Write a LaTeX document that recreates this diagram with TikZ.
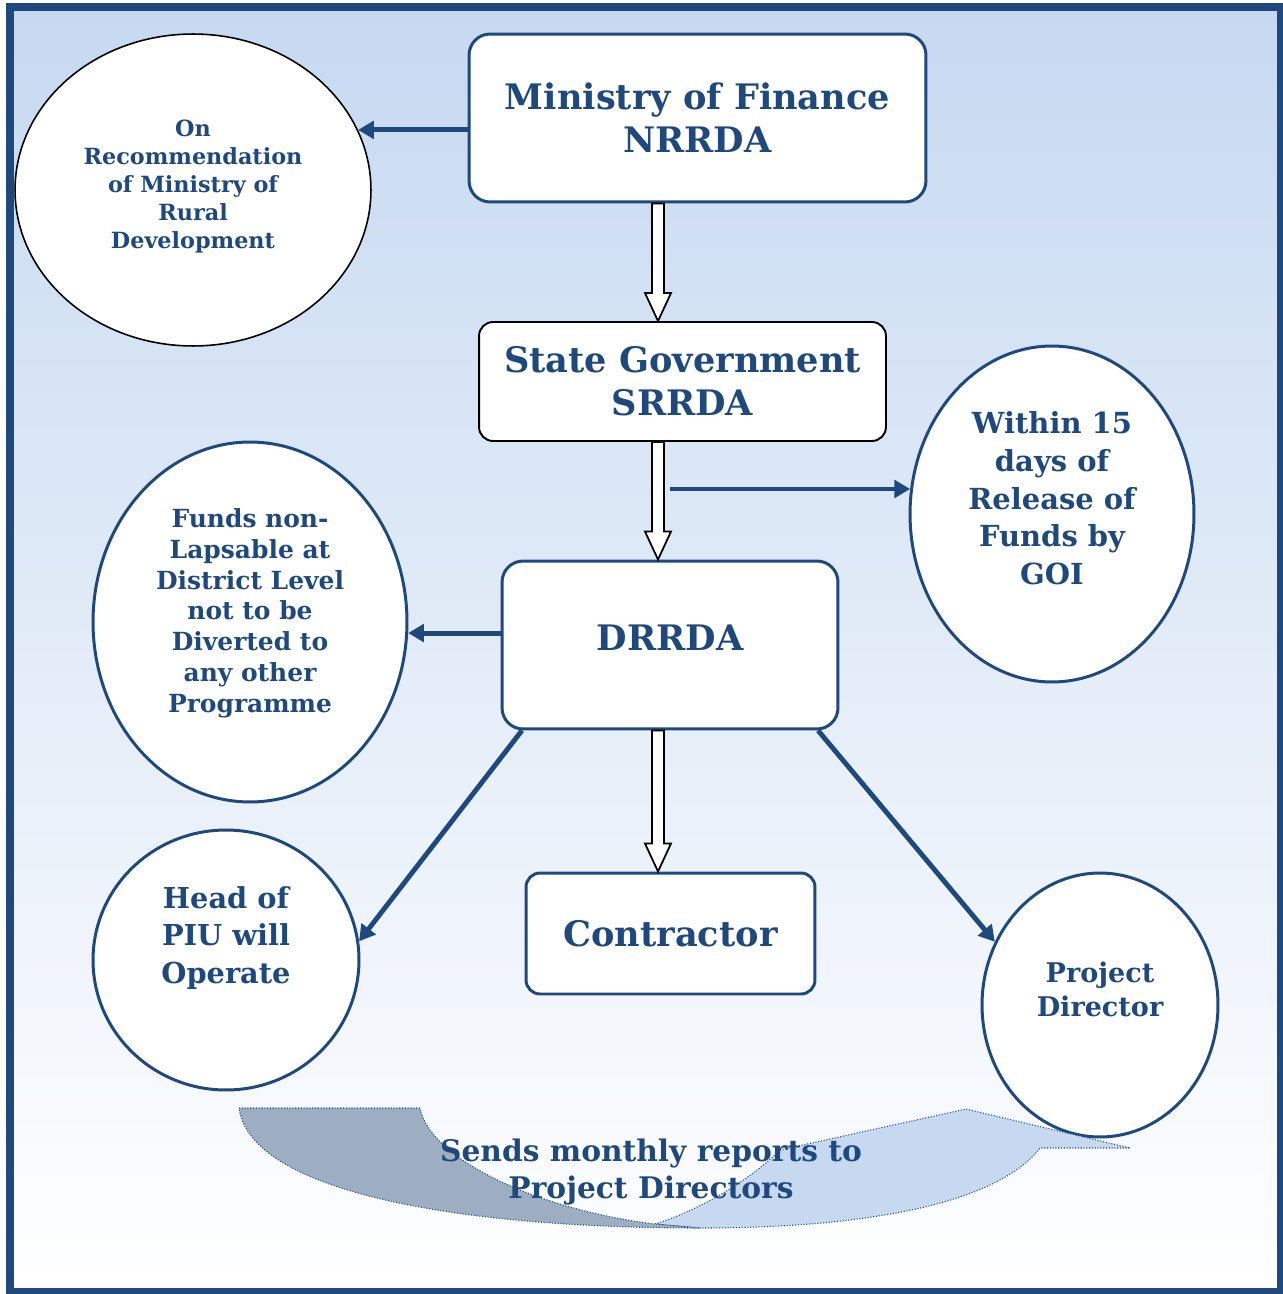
\documentclass[tikz,border=0pt]{standalone}
\usepackage{fontspec}
\setmainfont{DejaVu Serif}
\usetikzlibrary{shapes.geometric,arrows.meta,calc}
\definecolor{navy}{HTML}{1F497D}
\definecolor{skyfill}{HTML}{C6D9F1}
\definecolor{slate}{HTML}{9DAEC2}
% hollow block arrow straight down between two nodes, on the spine
\newcommand\downpipe[2]{%
  \draw[pipe] ($(spine |- #1.south)+(-6,0)$) -- ($(spine |- #2.north)+(-6,-28)$)
    -- ($(spine |- #2.north)+(-13,-28)$) -- (spine |- #2.north)
    -- ($(spine |- #2.north)+(13,-28)$) -- ($(spine |- #2.north)+(6,-28)$)
    -- ($(spine |- #1.south)+(6,0)$) -- cycle;}

\begin{document}
\begin{tikzpicture}[x=0.02cm,y=-0.02cm,
    box/.style={draw=navy,line width=1.7pt,fill=white,rounded corners=12pt,text=navy,
      font=\bfseries\fontsize{20}{24.4}\selectfont,align=center},
    bubble/.style={ellipse,draw=navy,line width=1.7pt,fill=white,inner sep=0pt},
    note/.style={text=navy,align=center},
    link/.style={navy,line width=2.8pt,-{Triangle[length=9pt,width=10pt]}},
    pipe/.style={draw=black,line width=1pt,fill=white,line join=miter}]
  \useasboundingbox (0,0) rectangle (1283,1294);
  \shade[top color=skyfill,bottom color=white] (10,7) rectangle (1280,1291);
  \draw[navy,line width=4pt] (10,7) rectangle (1280,1291);
  \coordinate (spine) at (658,0);

  % boxes
  \node[box,minimum width=9.14cm,minimum height=3.36cm] (nrrda) at (697.5,118) {Ministry of Finance\\NRRDA};
  \node[box,draw=black,line width=1.1pt,rounded corners=8pt,minimum width=8.14cm,minimum height=2.38cm] (srrda) at (682.5,381.5) {State Government\\SRRDA};
  \node[box,minimum width=6.72cm,minimum height=3.36cm,text depth=8pt] (drrda) at (670,645) {DRRDA};
  \node[box,rounded corners=8pt,minimum width=5.78cm,minimum height=2.42cm] (contractor) at (670.5,933.5) {Contractor};

  % bubbles
  \node[bubble,draw=black,line width=0.9pt,minimum width=7.12cm,minimum height=6.24cm,
    label={[note,yshift=2pt,font=\bfseries\fontsize{12.7}{15.9}\selectfont]center:{On\\Recommendation\\of Ministry of\\Rural\\Development}}] (rec) at (193,190) {};
  \node[bubble,minimum width=5.68cm,minimum height=6.72cm,
    label={[note,yshift=9pt,font=\bfseries\fontsize{16.5}{21.5}\selectfont]center:{Within 15\\days of\\Release of\\Funds by\\GOI}}] (gov) at (1052,514) {};
  \node[bubble,minimum width=6.28cm,minimum height=7.2cm,
    label={[note,yshift=5pt,font=\bfseries\fontsize{14.2}{17.6}\selectfont]center:{Funds non-\\Lapsable at\\District Level\\not to be\\Diverted to\\any other\\Programme}}] (funds) at (250,622) {};
  \node[bubble,minimum width=5.32cm,minimum height=5.2cm,
    label={[note,yshift=12.5pt,font=\bfseries\fontsize{16.4}{21.5}\selectfont]center:{Head of\\PIU will\\Operate}}] (piu) at (226,960) {};
  \node[bubble,minimum width=4.72cm,minimum height=5.28cm,
    label={[note,yshift=9pt,font=\bfseries\fontsize{15.4}{19.3}\selectfont]center:{Project\\Director}}] (pd) at (1100,1005) {};

  % connectors
  \downpipe{nrrda}{srrda}
  \downpipe{srrda}{drrda}
  \downpipe{drrda}{contractor}
  \draw[link] (rec.20 -| nrrda.west) -- (rec.20);
  \draw[link] ([xshift=7pt]spine |- gov.170) -- (gov.170);
  \draw[link] (funds.-4 -| drrda.west) -- (funds.-4);
  \draw[link] (drrda.-150) -- (piu.8);
  \draw[link] (drrda.-30) -- (pd.149);

  % curved report arrow
  \filldraw[fill=skyfill,draw=navy,densely dotted,line width=0.6pt]
    (655,1224) .. controls (700,1210) and (750,1180) .. (780,1150) -- (966,1109) -- (1130,1148)
    -- (1040,1148) .. controls (1000,1200) and (880,1228) .. (700,1228) -- cycle;
  \filldraw[fill=slate,draw=navy,densely dotted,line width=0.6pt]
    (239,1108) -- (420,1108) .. controls (430,1160) and (540,1210) .. (655,1224)
    -- (700,1228) .. controls (450,1228) and (250,1190) .. (239,1108) -- cycle;
  \node[note,font=\bfseries\fontsize{16.9}{21}\selectfont] (sends) at (651,1172) {Sends monthly reports to\\Project Directors};
\end{tikzpicture}
\end{document}
